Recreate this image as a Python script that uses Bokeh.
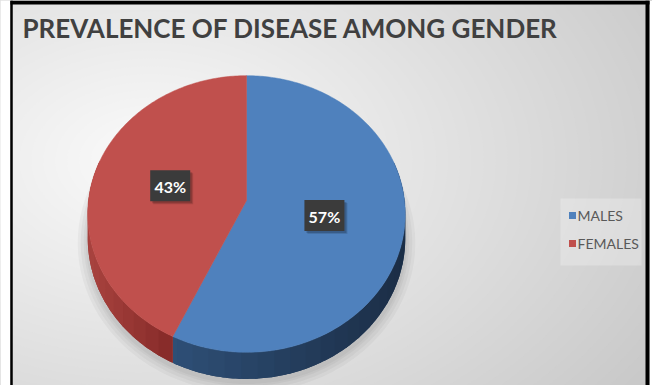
import numpy as np
from bokeh.plotting import figure
from bokeh.models import Range1d
from bokeh.core.properties import value
from bokeh.embed import file_html
from bokeh.resources import INLINE

# ---- data -------------------------------------------------------------
title_text = "PREVALENCE OF DISEASE AMONG GENDER"
categories = ["MALES", "FEMALES"]
shares = [57, 43]                      # percent, drawn clockwise from 12 o'clock
top_colors = ["#4f81bd", "#c0504d"]
side_light = ["#2e4f76", "#a9433f"]
side_dark = ["#1b2d45", "#852a28"]

FONT = "Lato"
W, H = 652, 385

p = figure(width=W, height=H, x_range=Range1d(0, W), y_range=Range1d(H, 0),
           output_backend="svg", toolbar_location=None, min_border=0,
           x_axis_location=None, y_axis_location=None)
p.grid.visible = False
p.outline_line_color = None
p.background_fill_color = "white"
p.border_fill_color = "white"

# ---- chart-area background: soft radial grey gradient ------------------
gcx, gcy, grx, gry = 150, 160, 500, 330
for g in range(198, 251):
    r = (251 - g) / 42.0
    col = "#%02x%02x%02x" % (g, g, g)
    p.ellipse(x=gcx, y=gcy, width=2 * grx * r, height=2 * gry * r,
              fill_color=col, line_color=None)

# legend panel, a touch lighter than its surroundings
p.quad(left=560, right=641, top=198, bottom=265, fill_color="white",
       fill_alpha=0.25, line_color=None)

# ---- 3-D pie geometry ---------------------------------------------------
cx, cy, sx, sy, k, depth = 246, 200, 158, 137, 0.0975, 24


def project(X, Z):
    w = 1.0 / (1.0 - k * Z)
    return cx + sx * X * w, cy + sy * Z * w, w


def hex2rgb(h):
    return np.array([int(h[i:i + 2], 16) for i in (1, 3, 5)], dtype=float)


def lerp_hex(a, b, t):
    c = hex2rgb(a) * (1 - t) + hex2rgb(b) * t
    return "#%02x%02x%02x" % tuple(int(round(v)) for v in c)


fracs = np.array(shares, dtype=float) / sum(shares)
edges = np.concatenate([[0.0], np.cumsum(fracs)]) * 2 * np.pi

# soft drop shadow under the disc
phi_all = np.linspace(0, 2 * np.pi, 181)
for grow in [10, 7, 4, 2]:
    bx, by, bw = project(np.sin(phi_all) * (1 + grow / 160), -np.cos(phi_all) * (1 + grow / 160))
    p.patch(bx, by + depth * bw + 3, fill_color="#000000", fill_alpha=0.035, line_color=None)

# side walls (front part of the rim): a solid band per slice, then shading strips
for i in range(len(shares)):
    n = max(int(fracs[i] * 400), 8)
    phi = np.linspace(edges[i], edges[i + 1], n + 1)
    X, Z = np.sin(phi), -np.cos(phi)
    keep = Z > -0.3
    if keep.sum() < 2:
        continue
    x, y, w = project(X[keep], Z[keep])
    yb = y + depth * w
    p.patch(np.concatenate([x, x[::-1]]), np.concatenate([y, yb[::-1]]),
            fill_color=lerp_hex(side_light[i], side_dark[i], 0.5), line_color=None)
    lo, hi = x.min(), x.max()
    step = 6
    xs, ys, cols = [], [], []
    for j in range(0, len(x) - 1, step):
        e = min(j + step + 1, len(x) - 1)
        seg = slice(j, e + 1)
        xs.append(np.concatenate([x[seg], x[seg][::-1]]))
        ys.append(np.concatenate([y[seg], yb[seg][::-1]]))
        t = ((x[j] + x[e]) / 2 - lo) / max(hi - lo, 1)
        cols.append(lerp_hex(side_light[i], side_dark[i], t))
    p.patches(xs, ys, fill_color=cols, line_color=None)

# top faces
for i in range(len(shares)):
    n = max(int(fracs[i] * 400), 8)
    phi = np.linspace(edges[i], edges[i + 1], n + 1)
    x, y, _ = project(np.sin(phi), -np.cos(phi))
    px = np.concatenate([[cx], x])
    py = np.concatenate([[cy], y])
    p.patch(px, py, fill_color=top_colors[i], line_color=top_colors[i], line_width=0.5)

# data labels in dark boxes, half-way out along each slice's mid-angle
for i in range(len(shares)):
    mid = (edges[i] + edges[i + 1]) / 2
    lx, ly, _ = project(0.5 * np.sin(mid), -0.5 * np.cos(mid))
    for off, a in [(3, 0.12), (2, 0.18)]:
        p.rect(x=lx + off, y=ly + off, width=40, height=31,
               fill_color="black", fill_alpha=a, line_color=None)
    p.rect(x=lx, y=ly, width=40, height=31, fill_color="#3b3b3b", line_color=None)
    p.text(x=[lx], y=[ly + 1], text=[f"{shares[i]}%"], text_align="center",
           text_baseline="middle", text_color="white", text_font=value(FONT),
           text_font_style="bold", text_font_size="16px")

# ---- legend -------------------------------------------------------------
for i, name in enumerate(categories):
    ly = 215 + 28 * i
    p.rect(x=572, y=ly, width=7, height=7, fill_color=top_colors[i], line_color=None)
    p.text(x=[577], y=[ly], text=[name], text_align="left", text_baseline="middle",
           text_color="#595959", text_font=value(FONT), text_font_size="14px")

# ---- title ----------------------------------------------------------------
p.text(x=[22], y=[27], text=[title_text], text_align="left", text_baseline="middle",
       text_color="#404040", text_font=value(FONT), text_font_style="bold",
       text_font_size="26px")

# ---- frame ----------------------------------------------------------------
p.quad(left=[0, 649], right=[10, W], top=[0, 0], bottom=[H, H],
       fill_color="white", line_color=None)
p.segment(x0=[11, 10, 647], y0=[0, 2, 0], x1=[11, 649, 647], y1=[H, 2, H],
          line_color="black", line_width=[2.5, 4, 4])

open("out.html", "w").write(file_html(p, INLINE))
